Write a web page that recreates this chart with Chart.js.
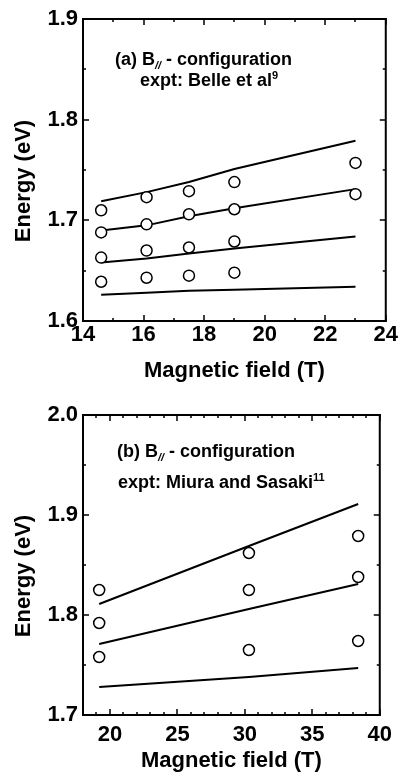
<!DOCTYPE html>
<html>
<head>
<meta charset="utf-8">
<script src="https://cdn.jsdelivr.net/npm/chart.js@4.4.1/dist/chart.umd.min.js"></script>
<style>
  html, body { margin: 0; padding: 0; background: #fff; }
  canvas { position: absolute; left: 0; }
  #chartA { top: 0; }
  #chartB { top: 395px; }
</style>
</head>
<body>
<canvas id="chartA" width="399" height="390"></canvas>
<canvas id="chartB" width="399" height="382"></canvas>
<script>
const FONT = "'Liberation Sans', Arial, Helvetica, sans-serif";

//---------------------------- panel (a): expt Belle et al ----------------------------
const fieldA = [14.6, 16.1, 17.5, 19.0, 23.0];
const exptA1 = [1.710, 1.723, 1.729, 1.738, 1.757];
const exptA2 = [1.688, 1.696, 1.706, 1.711, 1.726];
const exptA3 = [1.663, 1.670, 1.673, 1.679];
const exptA4 = [1.639, 1.643, 1.645, 1.648];
const theoryA1 = [1.719, 1.728, 1.738, 1.751, 1.779];
const theoryA2 = [1.690, 1.695, 1.704, 1.712, 1.731];
const theoryA3 = [1.658, 1.662, 1.667, 1.672, 1.684];
const theoryA4 = [1.626, 1.628, 1.630, 1.631, 1.634];
const xTicksA = [14, 16, 18, 20, 22, 24];
const yTicksA = [1.6, 1.7, 1.8, 1.9];

//---------------------------- panel (b): expt Miura and Sasaki ----------------------------
const fieldB = [19.2, 30.3, 38.4];
const exptB1 = [1.825, 1.862, 1.879];
const exptB2 = [1.792, 1.825, 1.838];
const exptB3 = [1.758, 1.765, 1.774];
const theoryB1 = [1.811, 1.869, 1.911];
const theoryB2 = [1.771, 1.806, 1.831];
const theoryB3 = [1.728, 1.738, 1.747];
const xTicksB = [20, 25, 30, 35, 40];
const yTicksB = [1.7, 1.8, 1.9, 2.0];

Chart.defaults.font.family = FONT;
Chart.defaults.color = '#000';

function pts(xs, ys) {
    return ys.map((y, i) => ({ x: xs[i], y: y }));
}

function circles(xs, ys) {
    return {
        type: 'scatter', data: pts(xs, ys), order: 0,
        pointStyle: 'circle', pointRadius: 5.5, pointBorderWidth: 1.5,
        pointBorderColor: '#000', pointBackgroundColor: '#fff'
    };
}

function curve(xs, ys) {
    return {
        type: 'line', data: pts(xs, ys), order: 1,
        borderColor: '#000', borderWidth: 2, pointRadius: 0, tension: 0, fill: false
    };
}

// box, inward ticks on all four sides, y title and the text inside the frame
function makeFrame(f) {
    return {
        id: 'frame',
        afterDraw(chart) {
            const ctx = chart.ctx, a = chart.chartArea;
            const xs = chart.scales.x, ys = chart.scales.y;
            ctx.save();
            ctx.fillStyle = '#000';
            // frame
            ctx.fillRect(a.left - 1, a.top - 1, a.right - a.left + 2, 2);
            ctx.fillRect(a.left - 1, a.bottom - 1, a.right - a.left + 2, 2);
            ctx.fillRect(a.left - 1, a.top - 1, 2, a.bottom - a.top + 2);
            ctx.fillRect(a.right - 1, a.top - 1, 2, a.bottom - a.top + 2);
            // ticks
            const i0 = Math.round(f.xMin / f.xMinor), i1 = Math.round(f.xMax / f.xMinor);
            for (let i = i0; i <= i1; i++) {
                const v = i * f.xMinor;
                const len = Math.abs(v / f.xMajor - Math.round(v / f.xMajor)) < 1e-6 ? 6 : 3;
                const px = Math.round(xs.getPixelForValue(v));
                ctx.fillRect(px - 0.75, a.bottom - len, 1.5, len);
                ctx.fillRect(px - 0.75, a.top, 1.5, len);
            }
            const j0 = Math.round(f.yMin / f.yMinor), j1 = Math.round(f.yMax / f.yMinor);
            for (let j = j0; j <= j1; j++) {
                const v = j * f.yMinor;
                const len = Math.abs(v / f.yMajor - Math.round(v / f.yMajor)) < 1e-6 ? 6 : 3;
                const py = Math.round(ys.getPixelForValue(v));
                ctx.fillRect(a.left, py - 0.75, len, 1.5);
                ctx.fillRect(a.right - len, py - 0.75, len, 1.5);
            }

            // y axis title
            ctx.font = 'bold 22px ' + FONT;
            ctx.textAlign = 'center';
            ctx.textBaseline = 'middle';
            ctx.translate(f.yTitleX, f.yTitleY);
            ctx.rotate(-Math.PI / 2);
            ctx.fillText('Energy (eV)', 0, 0);
            ctx.setTransform(1, 0, 0, 1, 0, 0);

            // label lines, with sub and superscripts
            ctx.textAlign = 'left';
            ctx.textBaseline = 'alphabetic';
            f.note.forEach(line => {
                let x = line.x;
                line.parts.forEach(p => {
                    let dy = 0;
                    if (p.sub) { ctx.font = 'italic bold 11px ' + FONT; dy = 4; }
                    else if (p.sup) { ctx.font = 'bold 11px ' + FONT; dy = -7; }
                    else { ctx.font = 'bold 18px ' + FONT; }
                    ctx.fillText(p.t, x, line.y + dy);
                    x += ctx.measureText(p.t).width;
                });
            });
            ctx.restore();
        }
    };
}

function makePanel(id, cfg) {
    return new Chart(document.getElementById(id), {
        data: { datasets: cfg.datasets },
        options: {
            responsive: false,
            animation: false,
            layout: { padding: { top: cfg.top, right: cfg.right, left: 0, bottom: 0 } },
            plugins: { legend: { display: false }, tooltip: { enabled: false } },
            scales: {
                x: {
                    type: 'linear', min: cfg.xMin, max: cfg.xMax,
                    afterBuildTicks: s => { s.ticks = cfg.xTicks.map(v => ({ value: v })); },
                    afterFit: s => { s.height = cfg.xHeight; },
                    grid: { display: false, drawTicks: false }, border: { display: false },
                    ticks: { font: { size: 22, weight: 'bold' }, padding: cfg.xTickPad, maxRotation: 0, autoSkip: false },
                    title: { display: true, text: 'Magnetic field (T)', font: { size: 22, weight: 'bold' }, padding: { top: 0, bottom: cfg.xTitlePad } }
                },
                y: {
                    type: 'linear', min: cfg.yMin, max: cfg.yMax,
                    afterBuildTicks: s => { s.ticks = cfg.yTicks.map(v => ({ value: v })); },
                    afterFit: s => { s.width = 83; },
                    grid: { display: false, drawTicks: false }, border: { display: false },
                    ticks: { font: { size: 22, weight: 'bold' }, padding: 5, callback: v => v.toFixed(1) }
                }
            }
        },
        plugins: [makeFrame(cfg)]
    });
}

makePanel('chartA', {
    datasets: [
        circles(fieldA, exptA1), circles(fieldA, exptA2), circles(fieldA, exptA3), circles(fieldA, exptA4),
        curve(fieldA, theoryA1), curve(fieldA, theoryA2), curve(fieldA, theoryA3), curve(fieldA, theoryA4)
    ],
    xMin: 14, xMax: 24, yMin: 1.6, yMax: 1.9, xTicks: xTicksA, yTicks: yTicksA,
    top: 19, right: 12, xHeight: 69, xTickPad: 1, xTitlePad: 6,
    xMinor: 1, xMajor: 2, yMinor: 0.05, yMajor: 0.1, yTitleX: 24, yTitleY: 181,
    note: [
        { x: 115, y: 65, parts: [{ t: '(a) B' }, { t: '//', sub: true }, { t: ' - configuration' }] },
        { x: 140, y: 86, parts: [{ t: 'expt: Belle et al' }, { t: '9', sup: true }] }
    ]
});

makePanel('chartB', {
    datasets: [
        circles(fieldB, exptB1), circles(fieldB, exptB2), circles(fieldB, exptB3),
        curve(fieldB, theoryB1), curve(fieldB, theoryB2), curve(fieldB, theoryB3)
    ],
    xMin: 18, xMax: 40, yMin: 1.7, yMax: 2.0, xTicks: xTicksB, yTicks: yTicksB,
    top: 20, right: 14, xHeight: 62, xTickPad: 7, xTitlePad: 3,
    xMinor: 1, xMajor: 5, yMinor: 0.05, yMajor: 0.1, yTitleX: 24, yTitleY: 181,
    note: [
        { x: 117, y: 62, parts: [{ t: '(b) B' }, { t: '//', sub: true }, { t: ' - configuration' }] },
        { x: 118, y: 93, parts: [{ t: 'expt: Miura and Sasaki' }, { t: '11', sup: true }] }
    ]
});
</script>
</body>
</html>
